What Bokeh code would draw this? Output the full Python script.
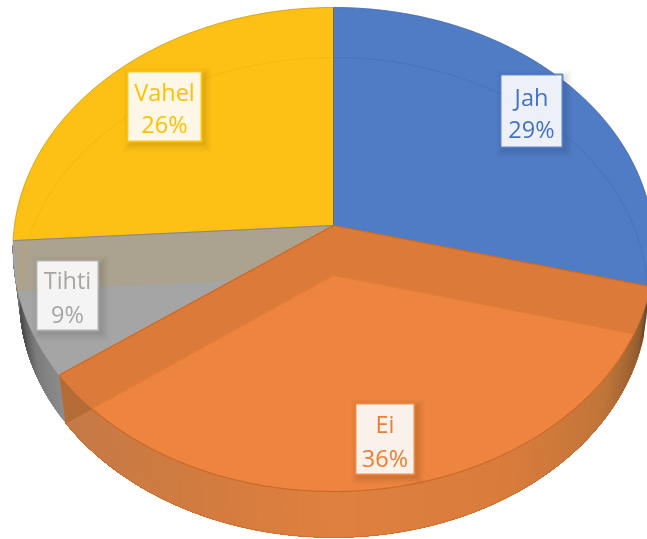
import numpy as np
from bokeh.plotting import figure
from bokeh.models import Range1d
from bokeh.core.properties import value
from bokeh.embed import file_html
from bokeh.resources import INLINE

categories = ["Jah", "Ei", "Tihti", "Vahel"]
shares = [29, 36, 9, 26]
face_colors = ["#507CC5", "#ED843F", "#A5A5A5", "#FDC116"]
text_colors = ["#4472C4", "#ED7D31", "#A5A5A5", "#FFC000"]

box_left = [500, 355, 36, 127]
box_right = [562, 414, 98, 201]
box_top = [74, 403, 260, 71]
box_bottom = [147, 474, 330, 141]
line1_y = [96, 423, 279, 91]
line2_y = [128, 457, 313, 123]

W, H = 647, 539
CX = 333
UPPER = dict(cy=225.0, top=7.0, bottom=491.0, r=319.0)
LOWER = dict(cy=275.0, top=57.0, bottom=537.0, r=313.0)


def rim(theta_deg, cy, top, bottom, r):
    t = np.radians(np.asarray(theta_deg, dtype=float))
    c = (2 * cy - top - bottom) / (top - bottom)
    a = top * (1 + c) - cy
    yy, xx = np.cos(t), np.sin(t)
    d = c * yy + 1
    return CX + r * xx / d, (a * yy + cy) / d


def arc(t0, t1, geom, n=160):
    return rim(np.linspace(t0, t1, n), **geom)


def mix(stops, f):
    pos = [s[0] for s in stops]
    ch = [np.interp(f, pos, [int(s[1][i:i + 2], 16) for s in stops]) for i in (1, 3, 5)]
    return "#%02x%02x%02x" % tuple(int(round(v)) for v in ch)


cum = np.cumsum([0] + shares) / sum(shares) * 360.0
t_jah, t_ei, t_tihti, t_vahel = cum[1], cum[2], cum[3], cum[4]
ax1, ay1 = CX, UPPER["cy"]
ax2, ay2 = CX, LOWER["cy"]

p = figure(width=W, height=H, x_range=Range1d(0, W), y_range=Range1d(H, 0),
           output_backend="svg", toolbar_location=None, min_border=0,
           outline_line_color=None, background_fill_color="white")
p.axis.visible = False
p.grid.visible = False
p.styles = {"position": "fixed", "left": "0px", "top": "0px"}


def poly(xs, ys, fill, alpha=1.0, line=None, lw=1.0, la=1.0):
    p.patch(list(xs), list(ys), fill_color=fill, fill_alpha=alpha,
            line_color=line if line else fill, line_width=lw if line else 0.5,
            line_alpha=la if line else alpha)


def wedge(t0, t1, geom):
    x, y = arc(t0, t1, geom)
    return np.r_[CX, x], np.r_[geom["cy"], y]


# walls: painted back to front, each strip running on under the next,
# so no seams show between them
orange_stops = [(t_jah, "#5E3D22"), (t_jah + 6, "#8F5C30"), (t_jah + 22, "#C07539"),
                (t_jah + 45, "#D87C3C"), (180, "#DF803F"), (205, "#D07B40"), (t_ei, "#C47A48")]
grey_stops = [(t_ei, "#8C8C8C"), (t_ei + 10, "#7C7C7C"), (t_ei + 20, "#4A4A4A"), (t_tihti, "#8A8A8A")]
edges = np.linspace(t_jah, t_tihti, 170)
wall_xs, wall_ys, wall_cols = [], [], []
for i in range(len(edges) - 1):
    mid = (edges[i] + edges[i + 1]) / 2
    span = np.linspace(edges[i], t_tihti if mid >= t_ei else t_ei, 60)
    xa, ya = rim(span, **UPPER)
    xb, yb = rim(span[::-1], **LOWER)
    wall_xs.append(np.r_[xa, xb])
    wall_ys.append(np.r_[ya, yb])
    wall_cols.append(mix(orange_stops if mid < t_ei else grey_stops, mid))
p.patches(wall_xs, wall_ys, fill_color=wall_cols, line_color=None)


def crossing(t_line, t_lo, t_hi):
    """Where the lower face's radius at t_line leaves the upper rim."""
    bx, by = rim(t_line, **LOWER)
    ts = np.linspace(t_lo, t_hi, 3000)
    rx, ry = rim(ts, **UPPER)
    side = (bx - ax2) * (ry - ay2) - (by - ay2) * (rx - ax2)
    i = np.argmin(np.abs(side))
    return ts[i]


t_cross1 = crossing(t_jah, t_jah, t_jah + 35)
t_cross2 = crossing(t_ei, t_ei - 35, t_ei)

# left wedge of the front wall
xc, yc = arc(t_cross2, t_ei, UPPER, 40)
xe, ye = rim(t_ei, **LOWER)
poly(np.r_[xc, xe], np.r_[yc, ye], "#B46B36")

# top faces
x, y = wedge(0, t_jah, UPPER)
poly(x, y, face_colors[0])
x, y = wedge(t_tihti, t_vahel, UPPER)
poly(x, y, face_colors[3])
x, y = wedge(t_ei, t_tihti, UPPER)
poly(x, y, face_colors[2])

# seen-through band of the grey slice
xt, yt = rim(t_tihti, **UPPER)
xl, yl = rim(t_tihti, **LOWER)
poly([ax1, xt, xl, ax2], [ay1, yt, yl, ay2], "#ABA28F")

# faint rear rim of the lower face
xr, yr = arc(0, t_jah - 4, LOWER)
p.line(xr, yr, line_color="#3F68AE", line_width=1.2, line_alpha=0.35)
xr, yr = arc(t_tihti, 360, LOWER)
p.line(xr, yr, line_color="#E8A908", line_width=1.2, line_alpha=0.3)

# orange slice: band then main face
x, y = wedge(t_jah, t_ei, UPPER)
poly(x, y, "#DB7A39")
xm, ym = arc(t_cross1, t_cross2, UPPER)
poly(np.r_[ax2, xm], np.r_[ay2, ym], face_colors[1])

# edges
xm2, ym2 = arc(t_cross1, t_cross2, UPPER)
p.line(xm2, ym2, line_color="#C96A28", line_width=1.2)
xo, yo = arc(t_jah, t_ei, LOWER)
p.line(xo, yo, line_color="#C96A28", line_width=0.8, line_alpha=0.8)
for t in (t_jah, t_ei):
    xq, yq = rim(t, **UPPER)
    p.line([ax1, xq], [ay1, yq], line_color="#C96A28", line_width=1.2)
xq, yq = rim(t_cross1, **UPPER)
p.line([ax2, xq], [ay2, yq], line_color="#E57C38", line_width=1)
xq, yq = rim(t_cross2, **UPPER)
p.line([ax2, xq], [ay2, yq], line_color="#E57C38", line_width=1)
xq, yq = rim(0, **UPPER)
p.line([ax1, xq], [ay1, yq], line_color="#5A5A40", line_width=1, line_alpha=0.8)
xq, yq = rim(t_tihti, **UPPER)
p.line([ax1, xq], [ay1, yq], line_color="#7F7F7F", line_width=1, line_alpha=0.8)
xr, yr = arc(0, t_jah, UPPER)
p.line(xr, yr, line_color="#3D64A8", line_width=1, line_alpha=0.6)
xr, yr = arc(t_tihti, 360, UPPER)
p.line(xr, yr, line_color="#B89020", line_width=1, line_alpha=0.6)

# labels: a soft shadow, built up from widening translucent boxes
for grow, alpha in ((7, 0.02), (5, 0.025), (3, 0.03), (1, 0.035)):
    p.quad(left=[v + 3 - grow for v in box_left], right=[v + 3 + grow for v in box_right],
           top=[v + 3 - grow for v in box_top], bottom=[v + 3 + grow for v in box_bottom],
           fill_color="black", fill_alpha=alpha, line_color=None)
p.quad(left=box_left, right=box_right, top=box_top, bottom=box_bottom,
       fill_color="white", fill_alpha=0.9, line_color=text_colors, line_width=2, line_alpha=0.8)
centers = [(a + b) / 2 for a, b in zip(box_left, box_right)]
p.text(centers, line1_y, text=categories, text_color=text_colors, text_align="center",
       text_baseline="middle", text_font=value("Open Sans"), text_font_size="23.5px")
p.text(centers, line2_y, text=[f"{v}%" for v in shares], text_color=text_colors, text_align="center",
       text_baseline="middle", text_font=value("Open Sans"), text_font_size="23.5px")

open("out.html", "w").write(file_html(p, INLINE))
